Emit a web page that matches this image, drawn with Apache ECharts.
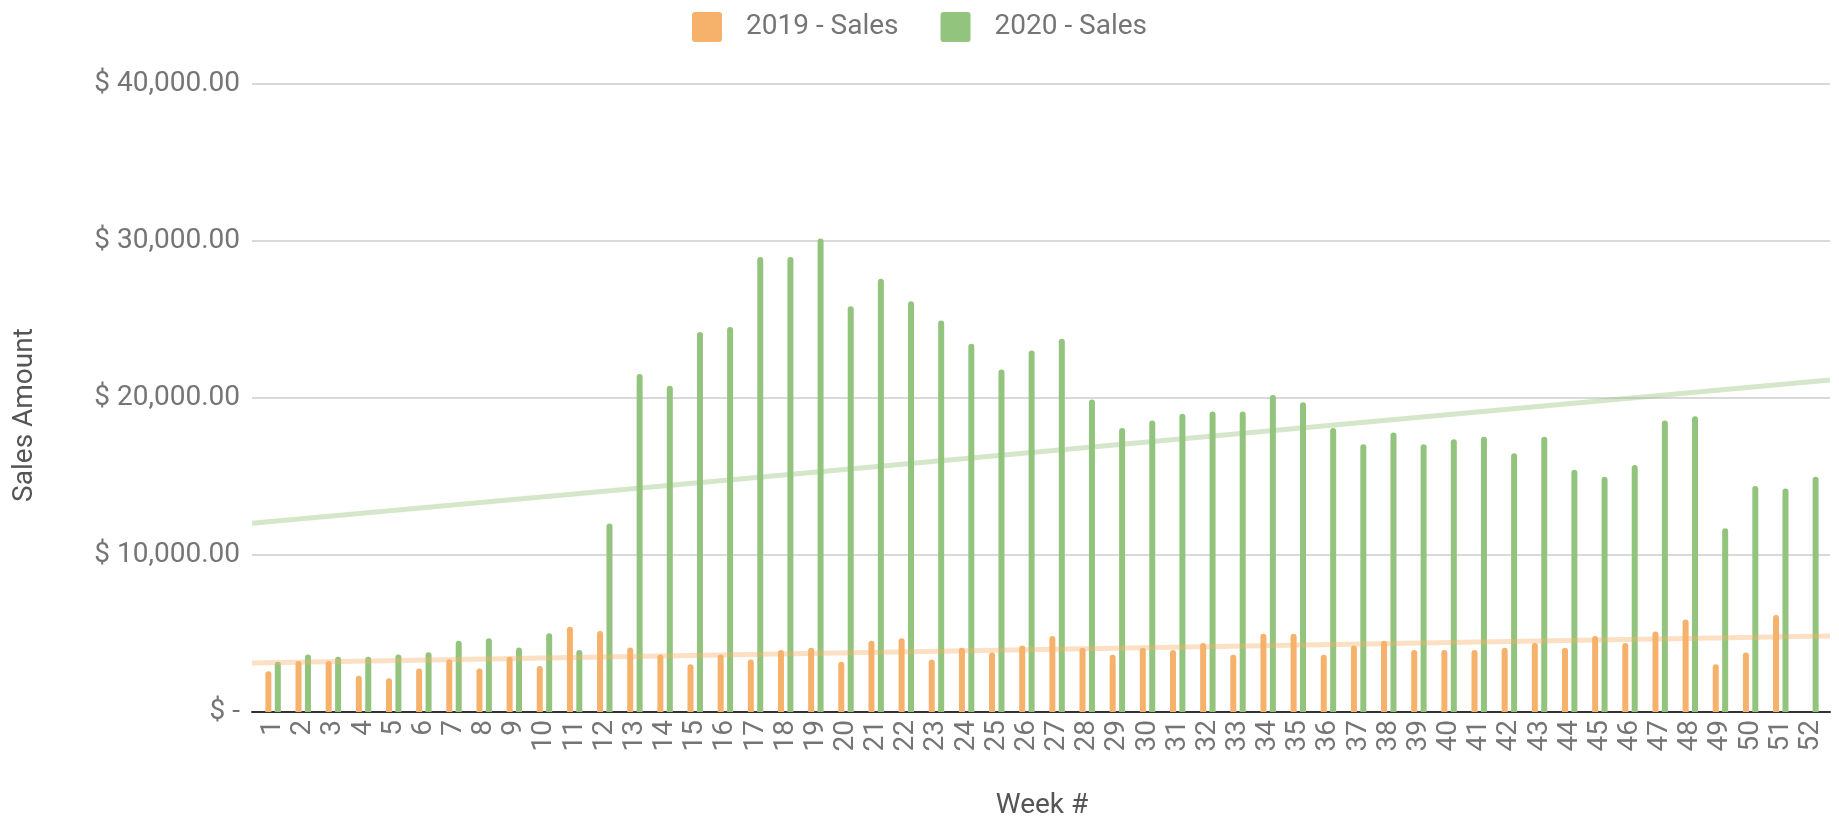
<!DOCTYPE html>
<html>
<head>
<meta charset="utf-8">
<script src="https://cdn.jsdelivr.net/npm/echarts@6/dist/echarts.min.js"></script>
<style>
html,body{margin:0;padding:0;background:#fff;}
#chart{width:1839px;height:825px;}
</style>
</head>
<body>
<div id="chart"></div>
<script>
const weeks = ['1','2','3','4','5','6','7','8','9','10','11','12','13','14','15','16','17','18','19','20','21','22','23','24','25','26','27','28','29','30','31','32','33','34','35','36','37','38','39','40','41','42','43','44','45','46','47','48','49','50','51','52'];
const sales2019 = [2600,3240,3240,2300,2150,2770,3365,2770,3515,2920,5430,5155,4110,3660,3045,3660,3345,3940,4090,3195,4540,4690,3345,4090,3790,4240,4835,4090,3640,4090,3940,4390,3640,4985,4985,3640,4240,4540,3940,3940,3940,4090,4390,4090,4835,4390,5130,5880,3045,3790,6180,null];
const sales2020 = [3195,3660,3515,3515,3660,3810,4540,4690,4110,5005,3940,11990,21510,20770,24180,24500,28950,28950,30140,25820,27580,26140,24920,23430,21790,23000,23750,19890,18080,18550,18980,19130,19130,20170,19720,18080,17040,17790,17040,17360,17510,16460,17510,15420,14970,15720,18550,18830,11690,14380,14230,14970];
const yTicks = [0,10000,20000,30000,40000];
const seriesNames = ['2019 - Sales','2020 - Sales'];

// linear regression trend (weeks 1..52, blanks skipped)
function trend(values, x0, x1){
  let n=0,sx=0,sy=0,sxx=0,sxy=0;
  values.forEach((v,i)=>{ if(v==null) return; const x=i+1; n++; sx+=x; sy+=v; sxx+=x*x; sxy+=x*v; });
  const b=(n*sxy-sx*sy)/(n*sxx-sx*sx); const a=(sy-b*sx)/n;
  return [[x0,a+b*x0],[x1,a+b*x1]];
}
const X0 = 0.304, X1 = 52.62;

function fmt(v){
  if(v===0) return '$ -';
  return '$ ' + v.toLocaleString('en-US',{minimumFractionDigits:2,maximumFractionDigits:2});
}

const chart = echarts.init(document.getElementById('chart'));
const FONT = 'Roboto';
chart.setOption({
  animation:false,
  backgroundColor:'#ffffff',
  textStyle:{fontFamily:FONT},
  legend:{
    data:seriesNames,
    top:7, left:687,
    itemWidth:30, itemHeight:30, itemGap:42,
    icon:'path://M3,0 H27 Q30,0 30,3 V27 Q30,30 27,30 H3 Q0,30 0,27 V3 Q0,0 3,0 Z',
    textStyle:{fontSize:28, color:'#757575', fontFamily:FONT, padding:[0,0,0,19]}
  },
  grid:[
    {left:258, right:13, top:83.5, bottom:113},
    {left:252, right:9, top:83.5, bottom:113}
  ],
  xAxis:[
    {type:'category', gridIndex:0, data:weeks,
     axisLine:{show:false}, axisTick:{show:false},
     axisLabel:{rotate:90, interval:0, fontSize:28, color:'#757575', margin:8, fontFamily:FONT},
     name:'Week #', nameLocation:'middle', nameGap:80,
     nameTextStyle:{fontSize:28, color:'#555555', fontFamily:FONT}},
    {type:'value', gridIndex:1, min:X0, max:X1,
     axisLine:{show:true, onZero:false, lineStyle:{color:'#333333', width:2}},
     axisTick:{show:false}, axisLabel:{show:false}, splitLine:{show:false}}
  ],
  yAxis:[
    {type:'value', gridIndex:0, min:0, max:40000, interval:10000, show:false},
    {type:'value', gridIndex:1, min:0, max:40000, interval:10000,
     axisLine:{show:false}, axisTick:{show:false},
     axisLabel:{formatter:fmt, fontSize:28, color:'#757575', margin:12, fontFamily:FONT},
     splitLine:{lineStyle:{color:'#cccccc', width:1.5}}}
  ],
  graphic:[
    {type:'text', x:25, y:415, rotation:Math.PI/2,
     style:{text:'Sales Amount', fontSize:28, fontFamily:FONT, fill:'#555555', align:'center', verticalAlign:'middle'}}
  ],
  series:[
    {name:seriesNames[0], type:'bar', xAxisIndex:0, yAxisIndex:0, data:sales2019,
     barWidth:6, barGap:'57%', itemStyle:{color:'#f6b26b', borderRadius:[3,3,0,0]}},
    {name:seriesNames[1], type:'bar', xAxisIndex:0, yAxisIndex:0, data:sales2020,
     barWidth:6, barGap:'57%', itemStyle:{color:'#93c47d', borderRadius:[3,3,0,0]}},
    {name:'trend2019', type:'line', xAxisIndex:1, yAxisIndex:1, data:trend(sales2019,X0,X1),
     symbol:'none', silent:true, z:5, lineStyle:{color:'#f6b26b', width:5, opacity:0.4}},
    {name:'trend2020', type:'line', xAxisIndex:1, yAxisIndex:1, data:trend(sales2020,X0,X1),
     symbol:'none', silent:true, z:5, lineStyle:{color:'#93c47d', width:5, opacity:0.4}}
  ]
});
</script>
</body>
</html>
